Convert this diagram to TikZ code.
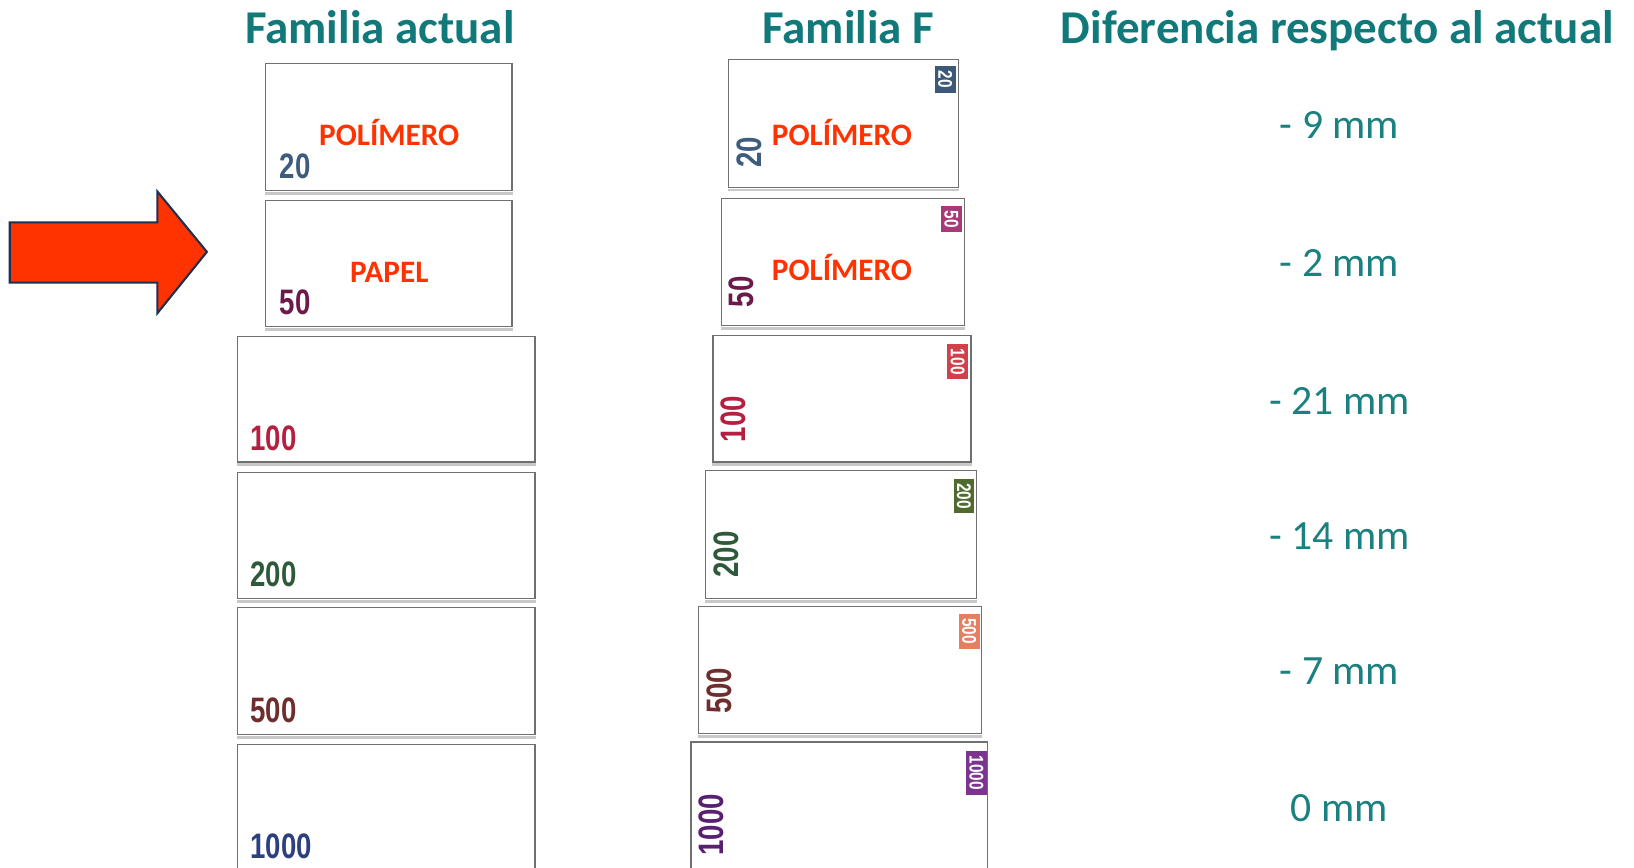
\documentclass[tikz,border=0pt]{standalone}
\usepackage{fontspec}
\setmainfont{Carlito}
\newfontfamily\numfont[FakeStretch=0.78]{Liberation Sans}
\usepackage{tikz}
\definecolor{C11797A}{HTML}{11797A}
\definecolor{C1A8080}{HTML}{1A8080}
\definecolor{CFF3300}{HTML}{FF3300}
\definecolor{C1F2F4F}{HTML}{1F2F4F}
\definecolor{C707070}{HTML}{707070}
\definecolor{CC8C8C8}{HTML}{C8C8C8}
\definecolor{C3E5C7C}{HTML}{3E5C7C}
\definecolor{C6B1A4A}{HTML}{6B1A4A}
\definecolor{CB52040}{HTML}{B52040}
\definecolor{C2F5A3A}{HTML}{2F5A3A}
\definecolor{C6E2E2E}{HTML}{6E2E2E}
\definecolor{C2E3F7E}{HTML}{2E3F7E}
\definecolor{C5A2070}{HTML}{5A2070}
\definecolor{C3C5A78}{HTML}{3C5A78}
\definecolor{CA83A7A}{HTML}{A83A7A}
\definecolor{CD2404A}{HTML}{D2404A}
\definecolor{C4F6B2E}{HTML}{4F6B2E}
\definecolor{CE48060}{HTML}{E48060}
\definecolor{C7B3590}{HTML}{7B3590}
\begin{document}
\begin{tikzpicture}[inner sep=0pt,
  note/.style={shape=rectangle, draw=C707070, line width=0.6pt, fill=white},
  num/.style={font=\numfont\bfseries\fontsize{17}{18}\selectfont},
  badge/.style={anchor=north east, minimum width=10pt, inner ysep=2.2pt, text=white, font=\numfont\bfseries\fontsize{9.5}{10}\selectfont},
  tag/.style={anchor=base, text=CFF3300, font=\bfseries\fontsize{15}{16}\selectfont},
  head/.style={anchor=base, text=C11797A, font=\bfseries\fontsize{22.6}{24}\selectfont},
  diff/.style={text=C1A8080, font=\fontsize{20}{22}\selectfont}]
\path[use as bounding box] (0pt,0pt) rectangle (785pt,-417pt);
\clip (0pt,0pt) rectangle (785pt,-417pt);

% titles
\node (t0) [head, at={(182.5pt,-21pt)}] {Familia actual};
\node (t1) [head, at={(407.5pt,-21pt)}] {Familia F};
\node (t2) [head, at={(642.5pt,-21pt)}] {Diferencia respecto al actual};

% familia actual
\node (n0) [note, minimum width=118.5pt, minimum height=61pt, at={(186.75pt,-61pt)}] {};
\node (n1) [note, minimum width=118.5pt, minimum height=60.5pt, at={(186.75pt,-126.75pt)}] {};
\node (n2) [note, minimum width=143pt, minimum height=60.5pt, at={(185.5pt,-191.75pt)}] {};
\node (n3) [note, minimum width=143pt, minimum height=60.5pt, at={(185.5pt,-257.25pt)}] {};
\node (n4) [note, minimum width=143pt, minimum height=61pt, at={(185.5pt,-322.5pt)}] {};
\node (n5) [note, minimum width=143pt, minimum height=80pt, at={(185.5pt,-397.5pt)}] {};

\path (n0.south west) ++(7pt,6pt) node[anchor=base west, num, text=C3E5C7C]{20};
\path (n1.south west) ++(7pt,6pt) node[anchor=base west, num, text=C6B1A4A]{50};
\path (n2.south west) ++(6.5pt,6pt) node[anchor=base west, num, text=CB52040]{100};
\path (n3.south west) ++(6.5pt,6pt) node[anchor=base west, num, text=C2F5A3A]{200};
\path (n4.south west) ++(6.5pt,6pt) node[anchor=base west, num, text=C6E2E2E]{500};
\path (n5.north west) ++(6.5pt,-55pt) node[anchor=base west, num, text=C2E3F7E]{1000};

\node (p0) [tag, at={(187pt,-69.75pt)}] {POLÍMERO};
\node (p1) [tag, at={(187pt,-135.75pt)}] {PAPEL};

% familia F
\node (n6) [note, minimum width=110.5pt, minimum height=61.5pt, at={(405.25pt,-59.25pt)}] {};
\node (n7) [note, minimum width=117pt, minimum height=61pt, at={(405pt,-126pt)}] {};
\node (n8) [note, minimum width=124pt, minimum height=61pt, at={(404.5pt,-191.5pt)}] {};
\node (n9) [note, minimum width=130pt, minimum height=61.5pt, at={(404pt,-256.75pt)}] {};
\node (n10) [note, minimum width=136pt, minimum height=61pt, at={(403.5pt,-322pt)}] {};
\node (n11) [note, minimum width=142.5pt, minimum height=80pt, at={(403.25pt,-396.5pt)}] {};

\foreach \n in {n0,n1,n2,n3,n4,n6,n7,n8,n9,n10}
  \draw[CC8C8C8, line width=1.4pt] ([yshift=-1pt]\n.south west) -- ([yshift=-1pt]\n.south east);

\path (n6.north west) ++(16pt,-52.5pt) node[anchor=base west, rotate=90, num, text=C3E5C7C]{20};
\path (n7.north west) ++(16pt,-52.5pt) node[anchor=base west, rotate=90, num, text=C6B1A4A]{50};
\path (n8.north west) ++(16pt,-52pt) node[anchor=base west, rotate=90, num, text=CB52040]{100};
\path (n9.north west) ++(16pt,-52pt) node[anchor=base west, rotate=90, num, text=C2F5A3A]{200};
\path (n10.north west) ++(16pt,-52pt) node[anchor=base west, rotate=90, num, text=C6E2E2E]{500};
\path (n11.north west) ++(16pt,-55pt) node[anchor=base west, rotate=90, num, text=C5A2070]{1000};

\path (n6.north east) ++(-1.5pt,-3.5pt) node[badge, fill=C3C5A78]{\rotatebox{-90}{20}};
\path (n7.north east) ++(-1.5pt,-3.5pt) node[badge, fill=CA83A7A]{\rotatebox{-90}{50}};
\path (n8.north east) ++(-1.5pt,-4.5pt) node[badge, fill=CD2404A]{\rotatebox{-90}{100}};
\path (n9.north east) ++(-1pt,-4pt) node[badge, fill=C4F6B2E]{\rotatebox{-90}{200}};
\path (n10.north east) ++(-1pt,-3.5pt) node[badge, fill=CE48060]{\rotatebox{-90}{500}};
\path (n11.north east) ++(-0.5pt,-4.5pt) node[badge, fill=C7B3590]{\rotatebox{-90}{1000}};

\node (p2) [tag, at={(404.5pt,-69.75pt)}] {POLÍMERO};
\node (p3) [tag, at={(404.5pt,-134.75pt)}] {POLÍMERO};

% diferencias
\node (d0) [diff, at={(643.5pt,-60pt)}] {- 9 mm};
\node (d1) [diff, at={(643.5pt,-126.5pt)}] {- 2 mm};
\node (d2) [diff, at={(643.5pt,-192.5pt)}] {- 21 mm};
\node (d3) [diff, at={(643.5pt,-257.5pt)}] {- 14 mm};
\node (d4) [diff, at={(643.5pt,-322.5pt)}] {- 7 mm};
\node (d5) [diff, at={(643.5pt,-388pt)}] {0 mm};

% flecha
\path [draw=C1F2F4F, fill=CFF3300, line width=1pt, line join=miter]
  (4.7pt,-106.8pt) -- (75.6pt,-106.8pt) -- (75.6pt,-92pt) -- (99.4pt,-121pt)
  -- (75.6pt,-150.5pt) -- (75.6pt,-135.8pt) -- (4.7pt,-135.8pt) -- cycle;
\end{tikzpicture}
\end{document}
